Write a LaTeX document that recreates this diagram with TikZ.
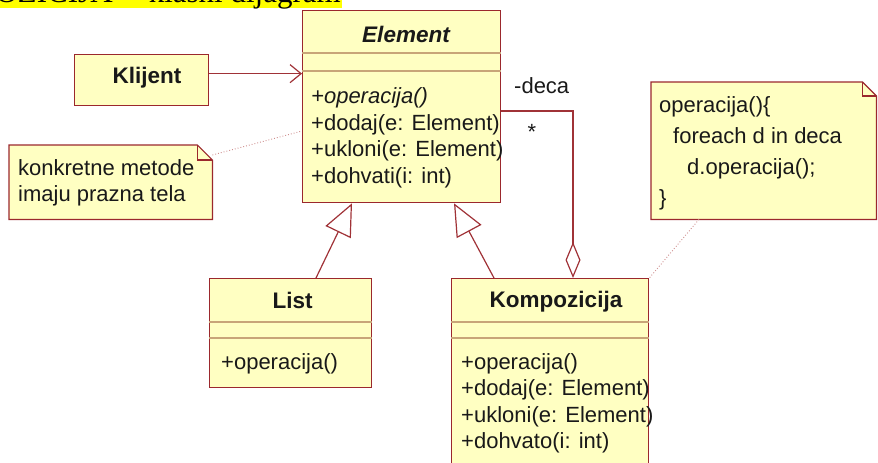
\documentclass[tikz,border=0pt]{standalone}
\usepackage{fontspec}
\setmainfont{Liberation Sans}
\newfontfamily\hdrfont{Liberation Serif}
\usetikzlibrary{arrows.meta,calc}
\definecolor{boxfill}{RGB}{255,255,194}
\definecolor{boxline}{RGB}{155,40,45}
\definecolor{sepline}{RGB}{200,165,120}
\definecolor{conline}{RGB}{160,50,55}
\definecolor{dotline}{RGB}{205,140,140}
\definecolor{hl}{RGB}{255,255,0}
\definecolor{ink}{RGB}{25,25,25}
\begin{document}
\begin{tikzpicture}[x=1pt,y=-1pt,
  cls/.style={draw=boxline, fill=boxfill, line width=1.3pt, inner sep=0pt, anchor=north west},
  notebox/.style={inner sep=0pt, anchor=north west},
  noteline/.style={draw=boxline, fill=boxfill, line width=1.2pt},
  sep/.style={draw=sepline, line width=1.6pt},
  txt/.style={font=\fontsize{22}{26}\selectfont, inner sep=0pt, anchor=base west, text=ink},
  ttl/.style={font=\fontsize{22.5}{26}\selectfont\bfseries, inner sep=0pt, anchor=base, text=ink},
  con/.style={draw=conline, line width=1.2pt},
  dotl/.style={draw=dotline, line width=0.9pt, dotted}]
\clip (0,0) rectangle (878,463);
\useasboundingbox (0,0) rectangle (878,463);

% header highlight (cut off at the top edge, as in the reference)
\fill[hl] (0,0) rectangle (342,7.7);
\node[inner sep=0pt, anchor=base east, font=\hdrfont\fontsize{31}{35}\selectfont, text=black] (hdr) at (341,2.5) {KOMPOZICIJA -- klasni dijagram};

% classes
\node[cls, minimum width=198pt, minimum height=192pt] (elem) at (302,10) {};
\draw[sep] ([yshift=-43pt]elem.north west) -- ([yshift=-43pt]elem.north east);
\draw[sep] ([yshift=-61pt]elem.north west) -- ([yshift=-61pt]elem.north east);
\node[ttl, font=\fontsize{22.5}{26}\selectfont\bfseries\itshape] (elemt) at (406,42) {Element};
\node[txt, font=\fontsize{22}{26}\selectfont\itshape] (e1) at (311,103.5) {+operacija()};
\node[txt] (e2) at (311,130) {+dodaj(e: Element)};
\node[txt] (e3) at (311,156.5) {+ukloni(e: Element)};
\node[txt] (e4) at (311,183) {+dohvati(i: int)};

\node[cls, minimum width=134pt, minimum height=51pt] (kl) at (74,54) {};
\node[ttl] (klt) at (147,83) {Klijent};

\node[cls, minimum width=162pt, minimum height=109pt] (list) at (209,278) {};
\draw[sep] ([yshift=-44pt]list.north west) -- ([yshift=-44pt]list.north east);
\draw[sep] ([yshift=-60pt]list.north west) -- ([yshift=-60pt]list.north east);
\node[ttl] (listt) at (292.5,308) {List};
\node[txt] (l1) at (221,369) {+operacija()};

\node[cls, minimum width=197pt, minimum height=200pt] (komp) at (451,278) {};
\draw[sep] ([yshift=-44pt]komp.north west) -- ([yshift=-44pt]komp.north east);
\draw[sep] ([yshift=-60pt]komp.north west) -- ([yshift=-60pt]komp.north east);
\node[ttl] (kompt) at (556,307) {Kompozicija};
\node[txt] (k1) at (461,369) {+operacija()};
\node[txt] (k2) at (461,395.5) {+dodaj(e: Element)};
\node[txt] (k3) at (461,422) {+ukloni(e: Element)};
\node[txt] (k4) at (461,448.5) {+dohvato(i: int)};

% notes
\node[notebox, minimum width=203pt, minimum height=74pt] (nl) at (9,145) {};
\draw[noteline] (nl.north west) -- ([xshift=-15pt]nl.north east) -- ([yshift=-15pt]nl.north east) -- (nl.south east) -- (nl.south west) -- cycle;
\draw[noteline, fill=none] ([xshift=-15pt]nl.north east) |- ([yshift=-15pt]nl.north east);
\node[txt] (nl1) at (18,175.5) {konkretne metode};
\node[txt] (nl2) at (18,201.5) {imaju prazna tela};

\node[notebox, minimum width=225pt, minimum height=137pt] (nr) at (651,82) {};
\draw[noteline] (nr.north west) -- ([xshift=-14pt]nr.north east) -- ([yshift=-14pt]nr.north east) -- (nr.south east) -- (nr.south west) -- cycle;
\draw[noteline, fill=none] ([xshift=-14pt]nr.north east) |- ([yshift=-14pt]nr.north east);
\node[txt] (nr1) at (659,112) {operacija()\{};
\node[txt] (nr2) at (673,143) {foreach d in deca};
\node[txt] (nr3) at (687,174) {d.operacija();};
\node[txt] (nr4) at (659,205) {\}};

% connector points
\coordinate (klr) at ([yshift=6.5pt]kl.east);
\coordinate (lt) at ([xshift=107pt]list.north west);
\coordinate (eb1) at ([xshift=50pt]elem.south west);
\coordinate (kt) at ([xshift=43pt]komp.north west);
\coordinate (eb2) at ([xshift=152pt]elem.south west);
\coordinate (ea) at ([yshift=-101pt]elem.north east);
\coordinate (ka) at ([xshift=122pt]komp.north west);

% connectors
\draw[con, -{Straight Barb[length=11pt,width=18pt]}] (klr) -- (klr -| elem.west);
\draw[con, -{Triangle[open,length=32pt,width=28pt]}] (lt) -- (eb1);
\draw[con, -{Triangle[open,length=32pt,width=28pt]}] (kt) -- (eb2);
\draw[con, -{Diamond[open,length=36pt,width=15pt]}] (ea) -| (ka);
\node[txt] (deca) at (514,93) {-deca};
\node[txt, anchor=base] (mult) at (532,139) {*};

\draw[dotl] ([yshift=-10pt]nl.north east) -- ([yshift=-121pt]elem.north west);
\draw[dotl] ([xshift=48pt]nr.south west) -- (komp.north east);
\end{tikzpicture}
\end{document}
